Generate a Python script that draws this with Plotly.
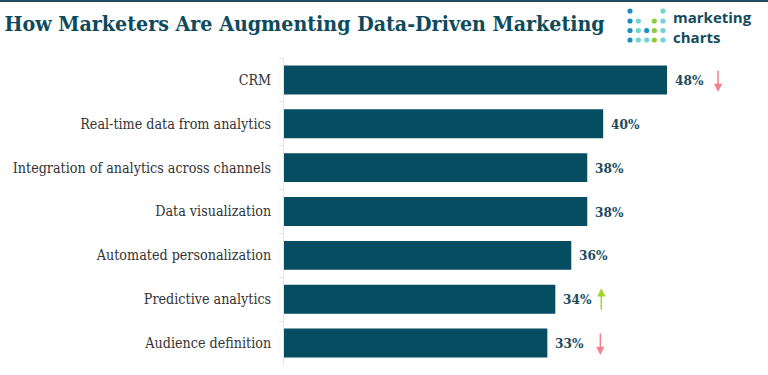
import plotly.graph_objects as go

categories = ["CRM", "Real-time data from analytics", "Integration of analytics across channels",
              "Data visualization", "Automated personalization", "Predictive analytics", "Audience definition"]
values = [48, 40, 38, 38, 36, 34, 33]
trends = ["down", None, None, None, None, "up", "down"]

W, H = 768, 375
ML, MR, MT, MB = 284, 0, 58, 10
PW, PH = W - ML - MR, H - MT - MB

def px(x):
    return (x - ML) / PW

def py(y):
    return (H - MB - y) / PH

BAR = "#064d62"
DARK = "#0e4a5b"
SERIF = "DejaVu Serif Condensed, DejaVu Serif"

fig = go.Figure()
fig.add_trace(go.Bar(
    x=values, y=categories, orientation="h",
    marker=dict(color=BAR, line=dict(width=0)),
    width=0.66, hoverinfo="skip",
))

annotations = []
for c, v in zip(categories, values):
    annotations.append(dict(x=v, y=c, xref="x", yref="y", text=f"<b>{v}%</b>",
                            showarrow=False, xanchor="left", xshift=6,
                            font=dict(family=SERIF, size=13.5, color="#1e4b5b")))

for c, v, t in zip(categories, values, trends):
    if t is None:
        continue
    off = 51 if c == "CRM" else (46 if t == "up" else 53)
    col = "#f4808f" if t == "down" else "#a4d626"
    annotations.append(dict(
        x=v, y=c, xref="x", yref="y", text="", showarrow=True,
        xshift=off, yshift=(-12 if t == "down" else 11),
        ax=0, ay=(-23 if t == "down" else 23),
        arrowhead=2, arrowsize=1.1, arrowwidth=1.5, arrowcolor=col,
    ))

# logo text
annotations.append(dict(x=px(671), y=py(27), xref="paper", yref="paper",
                        text="<b>marketing<br>charts</b>", showarrow=False,
                        xanchor="left", yanchor="middle", align="left",
                        font=dict(family="Open Sans, Roboto", size=15, color="#134c5c")))

shapes = [dict(type="line", xref="paper", yref="paper", x0=px(0), x1=px(W), y0=py(1), y1=py(1),
               line=dict(color="#1f4f5f", width=2))]

# logo dots
cols_x = [630, 638.3, 646.7, 654.3, 663]
rows_y = [11, 21, 30.5, 40]
B, C, G = "#1b8fc2", "#6fd3d6", "#8dcc3c"
dots = [
    [B, None, None, None, C],
    [B, C, None, G, C],
    [B, C, B, G, C],
    [B, C, C, G, C],
]
r = 2.6
for ri, row in enumerate(dots):
    for ci, col in enumerate(row):
        if col is None:
            continue
        cx, cy = cols_x[ci], rows_y[ri]
        shapes.append(dict(type="circle", xref="paper", yref="paper",
                           x0=px(cx - r), x1=px(cx + r), y0=py(cy + r), y1=py(cy - r),
                           fillcolor=col, line=dict(width=0)))

fig.update_layout(
    width=W, height=H,
    margin=dict(l=ML, r=MR, t=MT, b=MB),
    paper_bgcolor="white", plot_bgcolor="white",
    showlegend=False,
    bargap=0.34,
    title=dict(text="<b>How Marketers Are Augmenting Data-Driven Marketing</b>",
               x=0.006, xanchor="left", y=1 - 24 / H, yanchor="middle",
               font=dict(family=SERIF, size=21.2, color=DARK)),
    xaxis=dict(range=[0, PW / 7.98], visible=False, fixedrange=True),
    yaxis=dict(categoryorder="array", categoryarray=categories, autorange="reversed",
               showline=True, linecolor="#e3e3e3", linewidth=1,
               ticks="outside", tickson="boundaries", ticklen=4, tickcolor="#e3e3e3",
               ticklabelstandoff=9, automargin=False,
               tickfont=dict(family=SERIF, size=14.2, color="#333333"),
               showgrid=False, zeroline=False, fixedrange=True),
    annotations=annotations,
    shapes=shapes,
)

fig.write_html("out.html", config={"displayModeBar": False},
               post_script="document.body.style.margin='0';document.body.style.overflow='hidden';")
